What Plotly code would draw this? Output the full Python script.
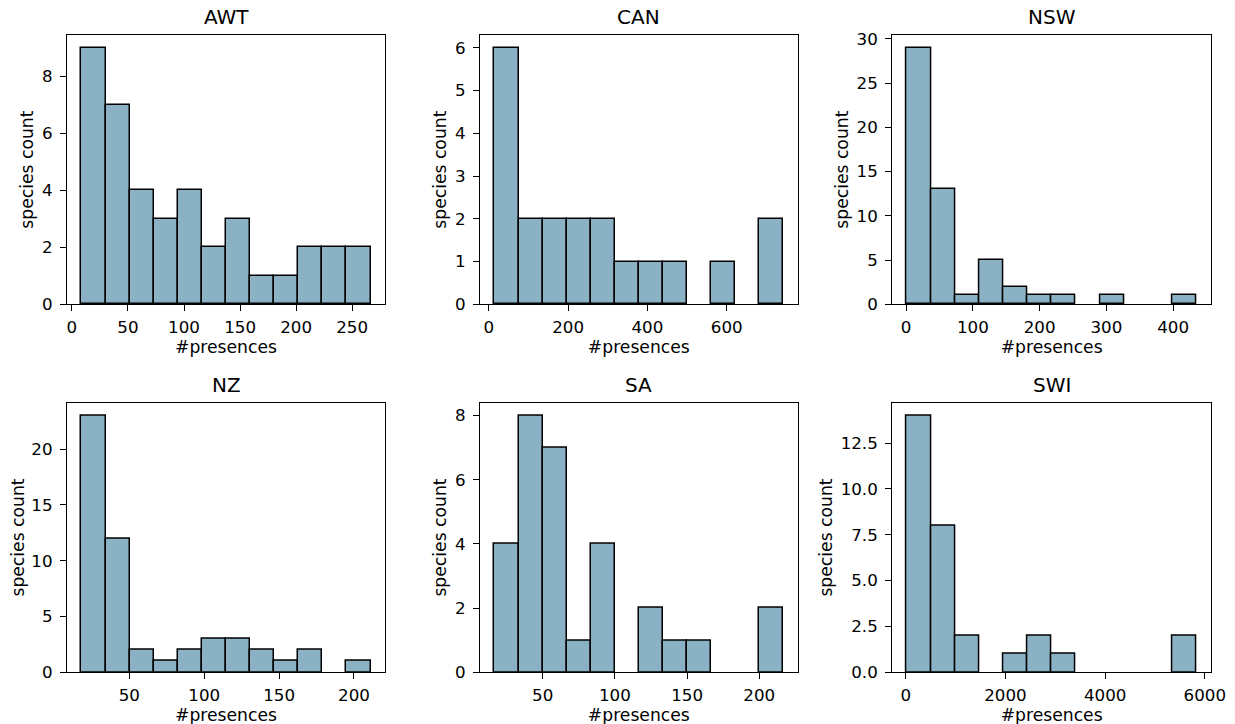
import numpy as np
import plotly.graph_objects as go

# ---- data ----
regions = ["AWT", "CAN", "NSW", "NZ", "SA", "SWI"]
bin_lo = [8.5, 14.3, 1.0, 18.0, 16.6, 20.0]       # left edge of first bin
bin_hi = [266.4, 742.7, 435.0, 211.1, 216.6, 5833.0]  # right edge of last bin

awt_counts = [9, 7, 4, 3, 4, 2, 3, 1, 1, 2, 2, 2]
can_counts = [6, 2, 2, 2, 2, 1, 1, 1, 0, 1, 0, 2]
nsw_counts = [29, 13, 1, 5, 2, 1, 1, 0, 1, 0, 0, 1]
nz_counts = [23, 12, 2, 1, 2, 3, 3, 2, 1, 2, 0, 1]
sa_counts = [4, 8, 7, 1, 4, 0, 2, 1, 1, 0, 0, 2]
swi_counts = [14, 8, 2, 0, 1, 2, 1, 0, 0, 0, 0, 2]
counts = [awt_counts, can_counts, nsw_counts, nz_counts, sa_counts, swi_counts]

x_ticks = [
    [0, 50, 100, 150, 200, 250],
    [0, 200, 400, 600],
    [0, 100, 200, 300, 400],
    [50, 100, 150, 200],
    [50, 100, 150, 200],
    [0, 2000, 4000, 6000],
]
y_ticks = [
    [0, 2, 4, 6, 8],
    [0, 1, 2, 3, 4, 5, 6],
    [0, 5, 10, 15, 20, 25, 30],
    [0, 5, 10, 15, 20],
    [0, 2, 4, 6, 8],
    [0, 2.5, 5.0, 7.5, 10.0, 12.5],
]
y_fmt = ["d", "d", "d", "d", "d", ".1f"]

x_label = "#presences"
y_label = "species count"

# ---- layout geometry (page places the figure 8px from top-left) ----
W, H = 1235, 724
OFF = 8
col_px = [(67, 385), (480, 797.7), (892.3, 1211)]
row_px = [(35, 304.3), (402.7, 672.3)]

BAR_COLOR = "#8bb1c4"
FONT = "DejaVu Sans"
TICK_SIZE = 16.7
LABEL_SIZE = 17.2
TITLE_SIZE = 20

fig = go.Figure()
layout = dict(
    width=W, height=H,
    margin=dict(l=0, r=0, t=0, b=0, autoexpand=False),
    paper_bgcolor="white", plot_bgcolor="white",
    showlegend=False,
    font=dict(family=FONT, size=TICK_SIZE, color="black"),
    bargap=0,
)
annotations = []

for i, name in enumerate(regions):
    r, c = divmod(i, 3)
    n = len(counts[i])
    edges = np.linspace(bin_lo[i], bin_hi[i], n + 1)
    centers = (edges[:-1] + edges[1:]) / 2
    widths = np.diff(edges)
    ax = "" if i == 0 else str(i + 1)
    line_w = [1.5 if v > 0 else 0 for v in counts[i]]
    fig.add_trace(go.Bar(
        x=centers, y=counts[i], width=widths,
        marker=dict(color=BAR_COLOR, line=dict(color="black", width=line_w)),
        xaxis="x" + ax, yaxis="y" + ax, hoverinfo="x+y",
    ))
    span = bin_hi[i] - bin_lo[i]
    xr = [bin_lo[i] - 0.05 * span, bin_hi[i] + 0.05 * span]
    yr = [0, max(counts[i]) * 1.05]
    x0, x1 = col_px[c]
    y0, y1 = row_px[r]
    xd = [(x0 - OFF) / W, (x1 - OFF) / W]
    yd = [1 - (y1 - OFF) / H, 1 - (y0 - OFF) / H]
    common = dict(
        showline=True, linecolor="black", linewidth=1.3, mirror=True,
        ticks="outside", ticklen=6, tickwidth=1.3, tickcolor="black",
        showgrid=False, zeroline=False, automargin=False,
        tickfont=dict(family=FONT, size=TICK_SIZE, color="black"),
    )
    layout["xaxis" + ax] = dict(
        common, domain=xd, range=xr, anchor="y" + ax,
        tickvals=x_ticks[i], ticktext=[str(v) for v in x_ticks[i]],
        ticklabelstandoff=2,
        title=dict(text=x_label, standoff=4,
                   font=dict(family=FONT, size=LABEL_SIZE, color="black")),
    )
    layout["yaxis" + ax] = dict(
        common, domain=yd, range=yr, anchor="x" + ax,
        tickvals=y_ticks[i], tickformat=y_fmt[i],
        ticklabelstandoff=4,
        title=dict(text=y_label, standoff=3,
                   font=dict(family=FONT, size=LABEL_SIZE, color="black")),
    )
    annotations.append(dict(
        text=name, x=(xd[0] + xd[1]) / 2, y=yd[1], xref="paper", yref="paper",
        xanchor="center", yanchor="bottom", yshift=7, showarrow=False,
        height=20, borderpad=0, valign="middle",
        font=dict(family=FONT, size=TITLE_SIZE, color="black"),
    ))

layout["annotations"] = annotations
fig.update_layout(**layout)
fig.write_html("out.html")
